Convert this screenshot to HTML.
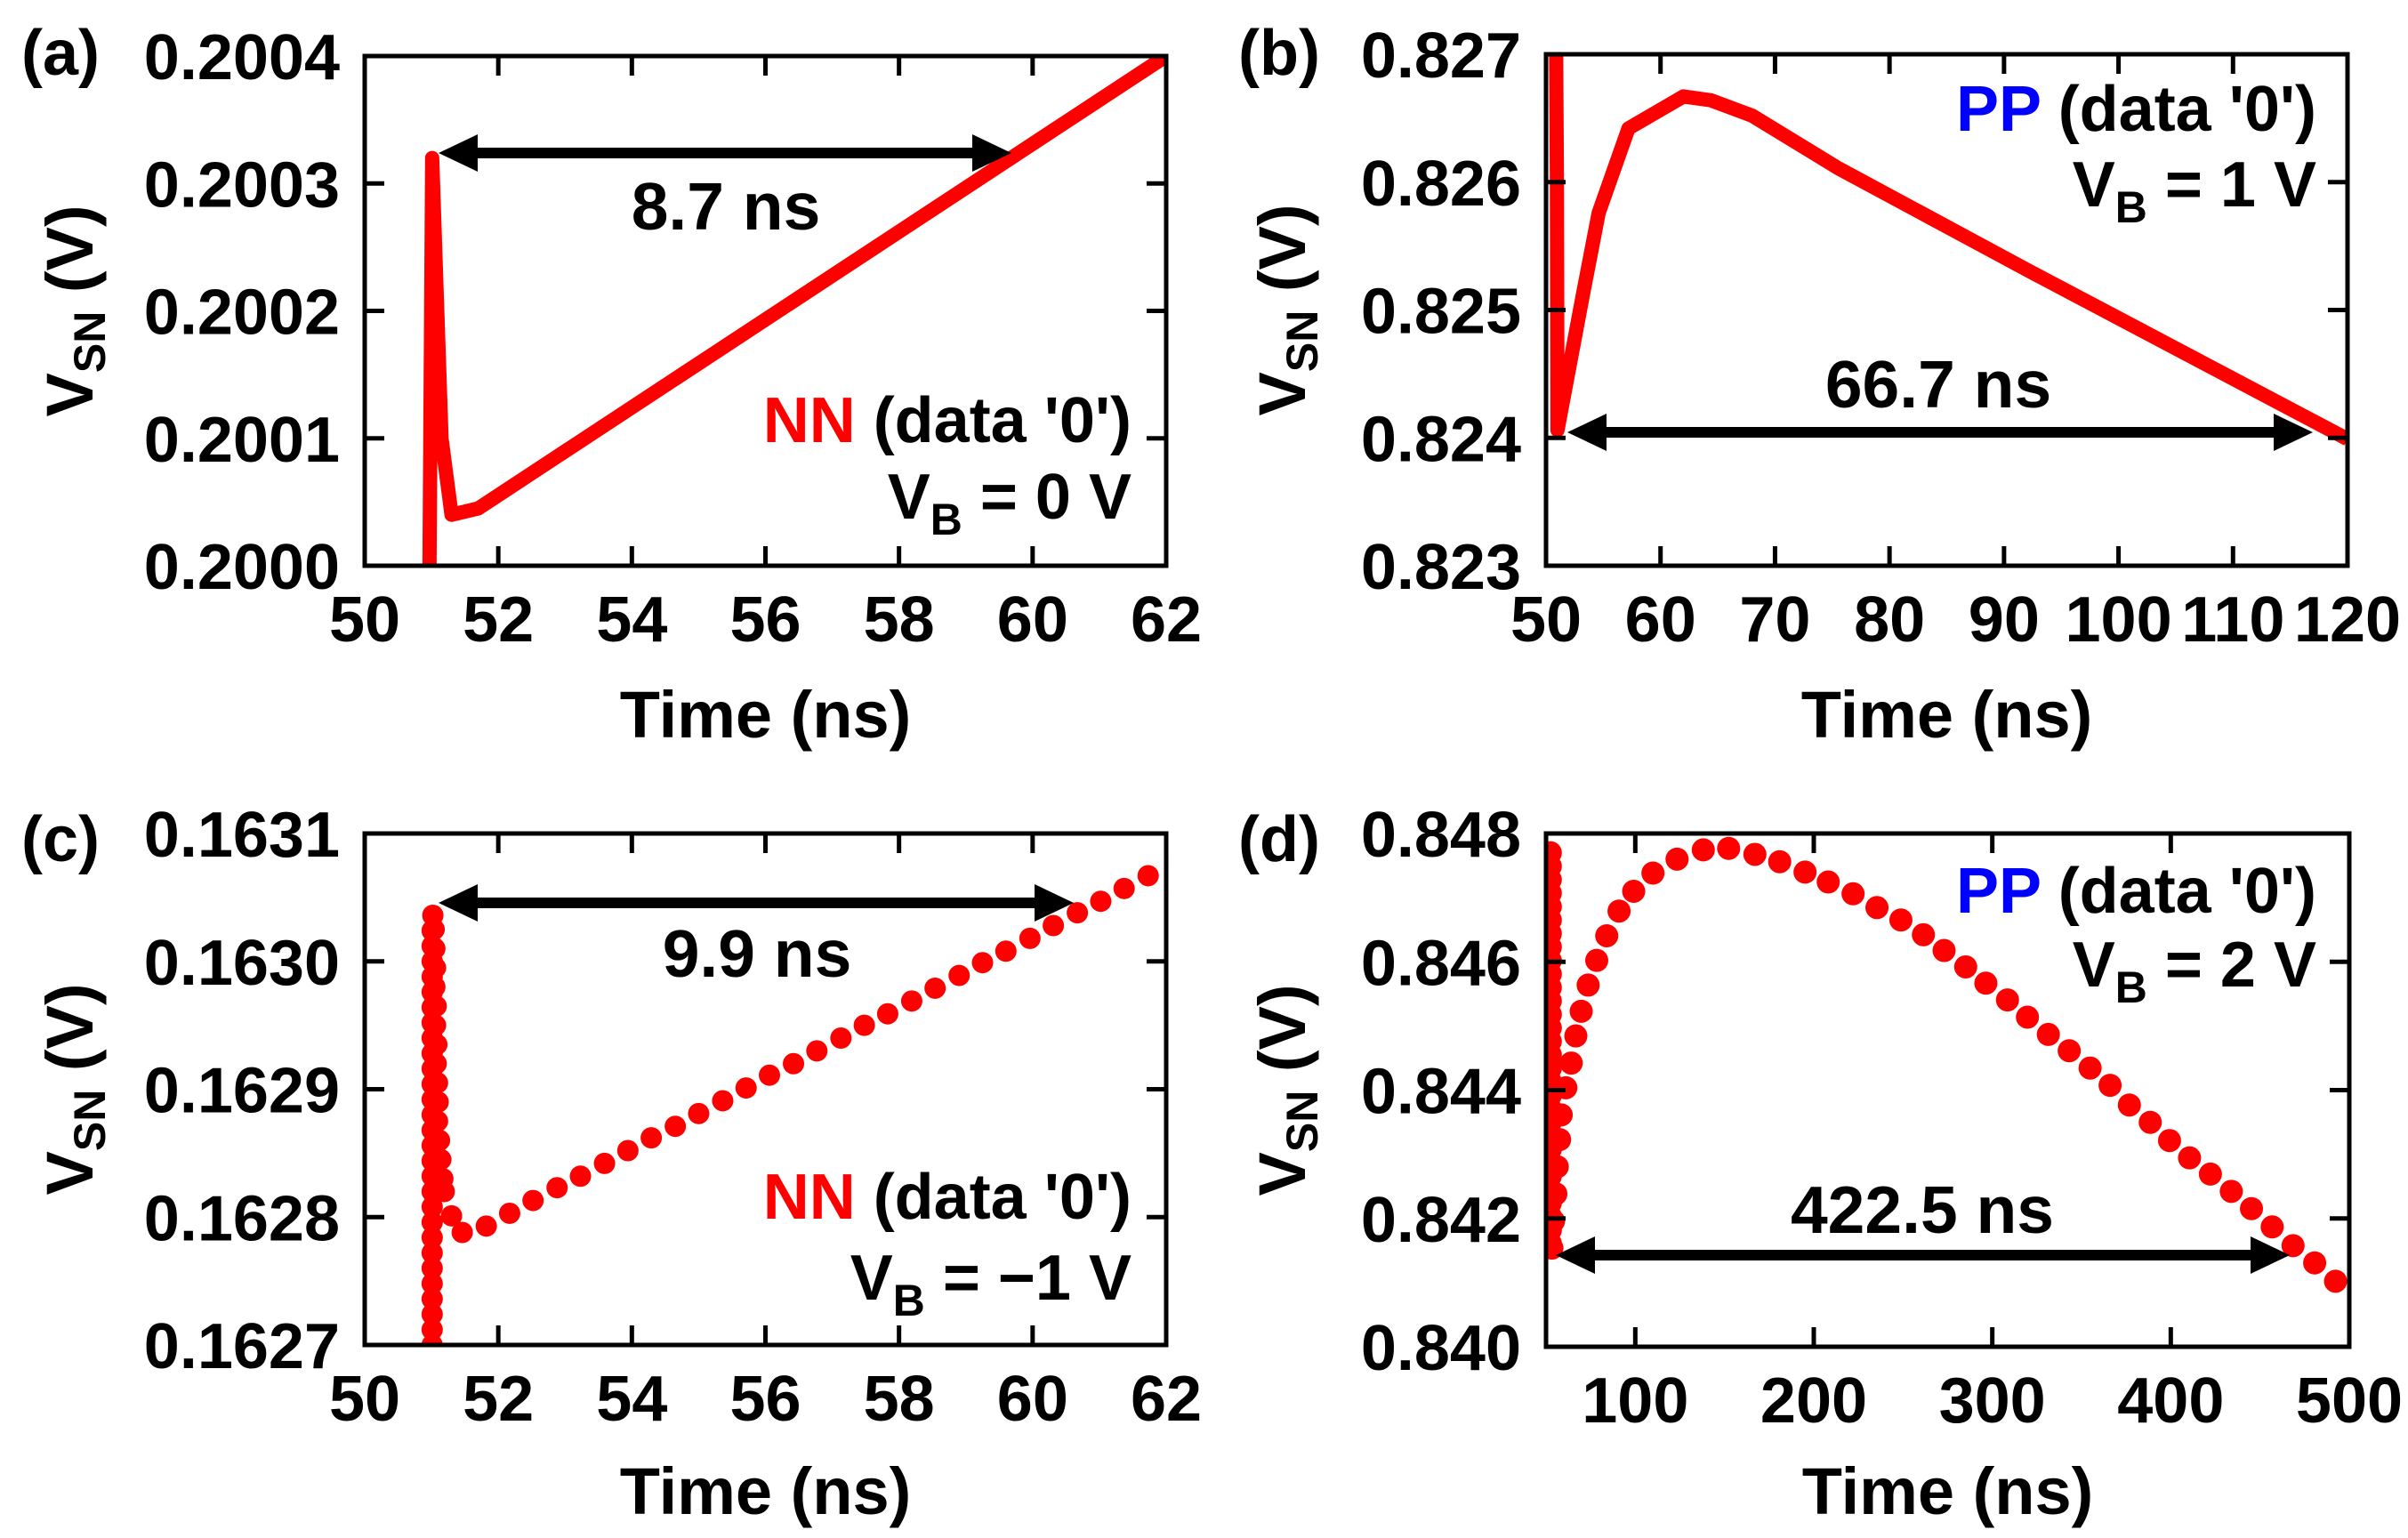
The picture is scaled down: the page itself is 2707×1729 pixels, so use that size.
<!DOCTYPE html>
<html><head><meta charset="utf-8"><style>
html,body{margin:0;padding:0;background:#fff}
svg{display:block}
text{font-family:"Liberation Sans",Arial,sans-serif;font-weight:bold;fill:#000}
</style></head><body>
<svg id="fig" width="2707" height="1729" viewBox="0 0 2707 1729" xmlns="http://www.w3.org/2000/svg"></svg>
<script>
// ---- data ----
const aX = [50.97, 50.97, 51.01, 51.15, 51.3, 51.7, 62];
const aY = [0.19990, 0.20000, 0.20032, 0.20010, 0.200040, 0.200045, 0.20040];
const bX = [50.85, 50.95, 51.0, 53.2, 54.6, 57.2, 62.0, 64.4, 68.0, 75.5, 92.3, 120];
const bY = [0.8275, 0.8260, 0.82406, 0.82511, 0.82576, 0.82642, 0.82667, 0.82664, 0.82652, 0.82611, 0.82530, 0.82399];
const cX = [51.01,51.01,51.01,51.01,51.01,51.01,51.01,51.01,51.01,51.01,51.01,51.01,51.01,51.01,51.01,51.01,51.01,51.01,51.01,51.01,51.01,51.01,51.01,51.01,51.01,51.01,51.01,51.01,51.02,
  51.04,51.05,51.06,51.05,51.07,51.06,51.08,51.07,51.09,51.10,51.09,51.12,51.14,51.17,
  51.19,51.30,51.46,51.82,
  52.17,52.52,52.88,53.23,53.59,53.94,54.29,54.65,55.00,55.36,55.71,56.06,56.42,56.77,57.13,57.48,57.83,58.19,58.54,58.90,59.25,59.60,59.96,60.31,60.67,61.02,61.37,61.73];
const cY = [0.16270,0.162712,0.162724,0.162736,0.162748,0.16276,0.162772,0.162784,0.162796,0.162808,0.16282,0.162832,0.162844,0.162856,0.162868,0.16288,0.162892,0.162904,0.162916,0.162928,0.16294,0.162952,0.162964,0.162976,0.162988,0.163,0.163012,0.163024,0.163036,
  0.163025,0.16301,0.162995,0.16298,0.162965,0.16295,0.162935,0.16292,0.162905,0.16289,0.162875,0.16286,0.162845,0.16283,
  0.16282,0.162801,0.162788,0.162793,
  0.162803,0.162813,0.162823,0.162832,0.162842,0.162852,0.162862,0.162871,0.162881,0.162891,0.162901,0.162911,0.16292,0.16293,0.16294,0.16295,0.162959,0.162969,0.162979,0.162989,0.162999,0.163008,0.163018,0.163028,0.163038,0.163047,0.163057,0.163067];
const dX = [52.4,52.4,52.4,52.4,52.4,52.4,52.4,52.4,52.4,52.4,52.4,52.4,52.4,52.4,52.4,52.4,52.4,52.4,52.4,52.4,52.4,52.4,52.4,52.4,52.4,52.4,52.4,52.4,52.4,52.4,
  53.3,54.2,55.5,56.3,57.6,58.5,61.1,64.1,66.7,69.7,73.6,78.4,84.0,90.9,99.1,109.9,123.4,138.1,152.3,167.0,180.9,195.1,208.1,222.0,235.4,248.8,261.4,273.0,285.1,296.4,308.5,319.7,331.4,343.1,354.8,366.0,376.8,388.5,399.3,410.5,422.2,433.9,445.2,456.8,468.5,480.6,492.3];
const dY = [0.8477,0.84749,0.84728,0.84707,0.84686,0.84665,0.84644,0.84623,0.84602,0.84581,0.8456,0.84539,0.84518,0.84497,0.84476,0.84455,0.84434,0.84413,0.84392,0.84371,0.8435,0.84329,0.84308,0.84287,0.84266,0.84245,0.84224,0.84203,0.84182,0.84161,
  0.841537,0.84196,0.842383,0.842806,0.843229,0.843614,0.844037,0.844422,0.844845,0.845229,0.845637,0.846022,0.846406,0.846791,0.847099,0.847383,0.8476,0.847745,0.847768,0.847675,0.84756,0.847398,0.847244,0.84706,0.846845,0.846652,0.846422,0.846176,0.845921,0.845667,0.845406,0.845137,0.844868,0.844614,0.844344,0.844075,0.843768,0.843498,0.843214,0.842944,0.842691,0.842422,0.842153,0.841868,0.841576,0.841307,0.841021];
const aXTicks = [50,52,54,56,58,60,62];
const aYTicks = ["0.2000","0.2001","0.2002","0.2003","0.2004"];
const bXTicks = [50,60,70,80,90,100,110,120];
const bYTicks = ["0.823","0.824","0.825","0.826","0.827"];
const cYTicks = ["0.1627","0.1628","0.1629","0.1630","0.1631"];
const dXTicks = [100,200,300,400,500];
const dYTicks = ["0.840","0.842","0.844","0.846","0.848"];

const NS = "http://www.w3.org/2000/svg";
const svg = document.getElementById('fig');
function mk(tag, attrs, parent) {
  const e = document.createElementNS(NS, tag);
  for (const k in attrs) e.setAttribute(k, attrs[k]);
  (parent || svg).appendChild(e);
  return e;
}

function panel(p) {
  const g = mk('g', {});
  
  
  const sx = v => p.x0 + (v - p.xmin) / (p.xmax - p.xmin) * (p.x1 - p.x0);
  const sy = v => p.y1 - (v - p.ymin) / (p.ymax - p.ymin) * (p.y1 - p.y0);
  const clipId = 'clip-' + p.id;
  const cp = mk('clipPath', {id: clipId}, g);
  mk('rect', {x: p.x0, y: p.y0, width: p.x1 - p.x0, height: p.y1 - p.y0}, cp);

  const sg = mk('g', {'clip-path': 'url(#' + clipId + ')'}, g);
  if (p.dots) {
    for (let i = 0; i < p.xs.length; i++) {
      const c = mk('circle', {cx: sx(p.xs[i]), cy: sy(p.ys[i]), r: p.r, fill: '#ff0000'}, sg);
      
      
    }
  } else {
    const pts = p.xs.map((x, i) => sx(x) + ',' + sy(p.ys[i])).join(' ');
    const l = mk('polyline', {points: pts, fill: 'none', stroke: '#ff0000', 'stroke-width': 16, 'stroke-linejoin': 'round'}, sg);
    
    
  }

  const tl = 22;
  p.xt.forEach(v => {
    const X = sx(v);
    mk('line', {x1: X, x2: X, y1: p.y1, y2: p.y1 - tl, stroke: '#000', 'stroke-width': 5}, g);
    mk('line', {x1: X, x2: X, y1: p.y0, y2: p.y0 + tl, stroke: '#000', 'stroke-width': 5}, g);
    const t = mk('text', {x: X, y: p.y1 + 85, 'font-size': 72, 'text-anchor': 'middle'}, g);
    t.textContent = v;
    
    
  });
  p.yt.forEach(s => {
    const Y = sy(parseFloat(s));
    mk('line', {x1: p.x0, x2: p.x0 + tl, y1: Y, y2: Y, stroke: '#000', 'stroke-width': 5}, g);
    mk('line', {x1: p.x1, x2: p.x1 - tl, y1: Y, y2: Y, stroke: '#000', 'stroke-width': 5}, g);
    const t = mk('text', {x: p.ylx, y: Y + 26, 'font-size': 72, 'text-anchor': 'end'}, g);
    t.textContent = s;
    
    
  });
  const box = mk('rect', {x: p.x0, y: p.y0, width: p.x1 - p.x0, height: p.y1 - p.y0, fill: 'none', stroke: '#000', 'stroke-width': 5}, g);
  
  

  const xt = mk('text', {x: (p.x0 + p.x1) / 2, y: p.xty, 'font-size': 74, 'text-anchor': 'middle'}, g);
  xt.textContent = 'Time (ns)';
  
  
  const cy = (p.y0 + p.y1) / 2;
  const yt = mk('text', {x: 0, y: 0, 'font-size': 74, 'text-anchor': 'middle', transform: 'translate(' + (p.ytx + 26) + ',' + cy + ') rotate(-90)'}, g);
  yt.innerHTML = 'V<tspan font-size="50" dy="14">SN</tspan><tspan dy="-14"> (V)</tspan>';
  
  

  const pl = mk('text', {x: p.plx, y: p.ply, 'font-size': 72}, g);
  pl.textContent = '(' + p.id + ')';
  
  

  const ag = mk('g', {}, g);
  
  
  const ay = p.arrow.y, ax0 = p.arrow.x0, ax1 = p.arrow.x1, h = 44, w = 21;
  mk('line', {x1: ax0 + h - 4, x2: ax1 - h + 4, y1: ay, y2: ay, stroke: '#000', 'stroke-width': 12}, ag);
  mk('polygon', {points: ax0 + ',' + ay + ' ' + (ax0 + h) + ',' + (ay - w) + ' ' + (ax0 + h) + ',' + (ay + w), fill: '#000'}, ag);
  mk('polygon', {points: ax1 + ',' + ay + ' ' + (ax1 - h) + ',' + (ay - w) + ' ' + (ax1 - h) + ',' + (ay + w), fill: '#000'}, ag);
  const at = mk('text', {x: p.arrow.tx, y: p.arrow.ty, 'font-size': 75, 'text-anchor': 'middle'}, g);
  at.textContent = p.arrow.label;
  
  

  const l1 = mk('text', {x: p.legX, y: p.leg1y, 'font-size': 72, 'text-anchor': 'end'}, g);
  l1.innerHTML = '<tspan fill="' + p.typeColor + '">' + p.type + '</tspan> (data \'0\')';
  
  
  const l2 = mk('text', {x: p.legX, y: p.leg2y, 'font-size': 72, 'text-anchor': 'end'}, g);
  l2.innerHTML = 'V<tspan font-size="50" dy="18">B</tspan><tspan dy="-18"> = ' + p.vb + ' V</tspan>';
  
  
}

panel({id:'a', x0:410, x1:1311, y0:63, y1:636, xmin:50, xmax:62, ymin:0.2, ymax:0.2004,
  xs:aX, ys:aY, dots:false, xt:aXTicks, yt:aYTicks, ylx:382, xty:829, ytx:78, plx:24, ply:84,
  arrow:{y:172, x0:493, x1:1137, label:'8.7 ns', tx:816, ty:258},
  type:'NN', typeColor:'#ff0000', vb:'0', legX:1272, leg1y:497, leg2y:583});
panel({id:'b', x0:1738, x1:2639, y0:61, y1:636, xmin:50, xmax:120, ymin:0.823, ymax:0.827,
  xs:bX, ys:bY, dots:false, xt:bXTicks, yt:bYTicks, ylx:1710, xty:829, ytx:1441, plx:1392, ply:84,
  arrow:{y:486, x0:1762, x1:2600, label:'66.7 ns', tx:2179, ty:458},
  type:'PP', typeColor:'#0000ff', vb:'1', legX:2604, leg1y:147, leg2y:232});
panel({id:'c', x0:410, x1:1311, y0:937, y1:1512, xmin:50, xmax:62, ymin:0.1627, ymax:0.1631,
  xs:cX, ys:cY, dots:true, r:12, xt:aXTicks, yt:cYTicks, ylx:382, xty:1702, ytx:78, plx:24, ply:968,
  arrow:{y:1015, x0:493, x1:1207, label:'9.9 ns', tx:851, ty:1098},
  type:'NN', typeColor:'#ff0000', vb:'\u22121', legX:1272, leg1y:1370, leg2y:1461});
panel({id:'d', x0:1738, x1:2641, y0:937, y1:1514, xmin:50, xmax:500, ymin:0.840, ymax:0.848,
  xs:dX, ys:dY, dots:true, r:13, xt:dXTicks, yt:dYTicks, ylx:1710, xty:1702, ytx:1441, plx:1392, ply:968,
  arrow:{y:1411, x0:1749, x1:2574, label:'422.5 ns', tx:2161, ty:1386},
  type:'PP', typeColor:'#0000ff', vb:'2', legX:2604, leg1y:1026, leg2y:1109});
</script>
</body></html>
